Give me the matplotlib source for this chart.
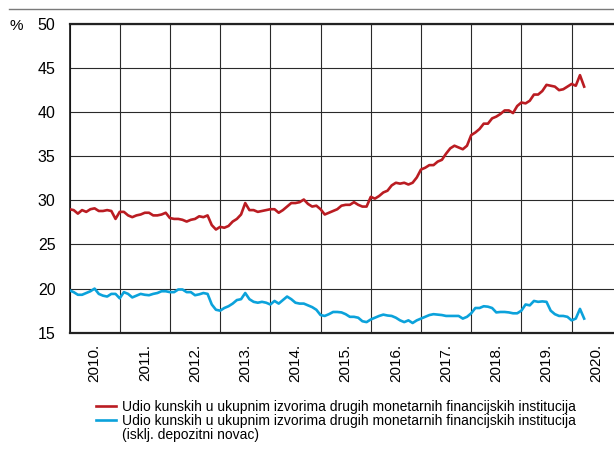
import matplotlib
matplotlib.use("Agg")
import matplotlib.pyplot as plt
from matplotlib.lines import Line2D
import numpy as np

plt.rcParams['font.family'] = ['Liberation Sans Narrow', 'Liberation Sans', 'DejaVu Sans']

# Monthly shares, January 2010 onwards (%)
share_total = [
    29.0, 28.9, 28.5, 28.9, 28.7, 29.0, 29.1, 28.8, 28.8, 28.9, 28.8, 27.9,
    28.7, 28.7, 28.3, 28.1, 28.3, 28.4, 28.6, 28.6, 28.3, 28.3, 28.4, 28.6,
    28.0, 27.9, 27.9, 27.8, 27.6, 27.8, 27.9, 28.2, 28.1, 28.3, 27.2, 26.7,
    27.0, 26.9, 27.1, 27.6, 27.9, 28.4, 29.7, 28.9, 28.9, 28.7, 28.8, 28.9,
    29.0, 29.0, 28.6, 28.9, 29.3, 29.7, 29.7, 29.8, 30.1, 29.6, 29.3, 29.4,
    29.0, 28.4, 28.6, 28.8, 29.0, 29.4, 29.5, 29.5, 29.8, 29.5, 29.3, 29.3,
    30.4, 30.2, 30.5, 30.9, 31.1, 31.7, 32.0, 31.9, 32.0, 31.8, 32.0, 32.6,
    33.5, 33.7, 34.0, 34.0, 34.4, 34.6, 35.3, 35.9, 36.2, 36.0, 35.8, 36.2,
    37.4, 37.7, 38.1, 38.7, 38.7, 39.3, 39.5, 39.8, 40.2, 40.2, 39.9, 40.7,
    41.1, 41.0, 41.3, 42.0, 42.0, 42.4, 43.1, 43.0, 42.9, 42.5, 42.6, 42.9,
    43.2, 43.0, 44.2, 42.9,
]
share_excl_deposit = [
    19.8, 19.6, 19.3, 19.3, 19.5, 19.7, 20.0, 19.4, 19.2, 19.1, 19.4, 19.4,
    18.9, 19.6, 19.4, 19.0, 19.2, 19.4, 19.3, 19.25, 19.4, 19.5, 19.7, 19.7,
    19.6, 19.6, 19.9, 19.9, 19.6, 19.6, 19.25, 19.35, 19.5, 19.4, 18.2, 17.6,
    17.5, 17.8, 18.0, 18.3, 18.7, 18.8, 19.5, 18.8, 18.5, 18.4, 18.5, 18.4,
    18.2, 18.6, 18.3, 18.7, 19.1, 18.8, 18.4, 18.3, 18.3, 18.1, 17.9, 17.6,
    17.0, 16.9, 17.1, 17.35, 17.35, 17.3, 17.1, 16.8, 16.8, 16.7, 16.3, 16.2,
    16.5, 16.7, 16.9, 17.05, 16.95, 16.9, 16.7, 16.4, 16.2, 16.4, 16.1, 16.4,
    16.6, 16.8, 17.0, 17.1, 17.05, 17.0, 16.9, 16.9, 16.9, 16.9, 16.6, 16.8,
    17.2, 17.8, 17.8, 18.0, 17.95, 17.8, 17.3, 17.35, 17.35, 17.3, 17.2, 17.2,
    17.5, 18.2, 18.1, 18.6, 18.5, 18.55, 18.5, 17.5, 17.1, 16.9, 16.9, 16.8,
    16.4, 16.6, 17.7, 16.6,
]
years = list(range(2010, 2021))
year_labels = [f"{y}." for y in years]
y_ticks = [15, 20, 25, 30, 35, 40, 45, 50]

label_total = "Udio kunskih u ukupnim izvorima drugih monetarnih financijskih institucija"
label_excl = "Udio kunskih u ukupnim izvorima drugih monetarnih financijskih institucija"
label_excl_note = "(isklj. depozitni novac)"

months = 2010 + np.arange(len(share_total)) / 12.0

W, H = 614, 457
fig = plt.figure(figsize=(W / 100, H / 100), dpi=100)
ax = fig.add_axes([69.5 / W, 1 - 332.7 / H, 1 - 69.5 / W, (332.7 - 24) / H])

red = '#BA1C22'
blue = '#0BA2DB'
l1, = ax.plot(months, share_total, color=red, lw=1.9, solid_joinstyle='round', zorder=3)
l2, = ax.plot(months, share_excl_deposit, color=blue, lw=1.9, solid_joinstyle='round', zorder=3)

ax.set_xlim(2010, 2010 + (W - 69.5) / 50.21)
ax.set_ylim(15, 50)

# grid: years vertically, 5-point steps horizontally
ax.set_xticks(years)
ax.set_xticklabels([])
ax.set_xticks([y + 0.5 for y in years], minor=True)
ax.set_xticklabels(year_labels, minor=True, rotation=90, fontsize=11)
ax.set_yticks(y_ticks)
ax.set_yticklabels([str(v) for v in y_ticks], fontsize=11.5)
ax.tick_params(axis='both', which='both', length=0)
ax.tick_params(axis='y', pad=10)
ax.tick_params(axis='x', which='minor', pad=8)
ax.grid(True, which='major', color='#2a2a2a', lw=0.8)

ax.spines['right'].set_visible(False)
ax.spines['top'].set_linewidth(1.6)
ax.spines['top'].set_color('#222222')
ax.spines['bottom'].set_linewidth(1.6)
ax.spines['bottom'].set_color('#222222')
ax.spines['left'].set_linewidth(1.2)
ax.spines['left'].set_color('#111111')

fig.text(9 / W, 1 - 26 / H, "%", fontsize=11, va='center', ha='left')

fig.add_artist(Line2D([9 / W, 1], [1 - 8.7 / H, 1 - 8.7 / H], color='#7a7a7a', lw=1.0))

# legend: the note line continues the second entry without a handle
note_handle = Line2D([], [], color='none')
leg = fig.legend([l1, l2, note_handle], [label_total, label_excl, label_excl_note],
                 loc='upper left', bbox_to_anchor=(96 / W, 1 - 400 / H),
                 frameon=False, fontsize=10, handlelength=1.45,
                 handletextpad=0.42, labelspacing=0.0, borderpad=0, borderaxespad=0)

fig.savefig("out.png", dpi=100)
